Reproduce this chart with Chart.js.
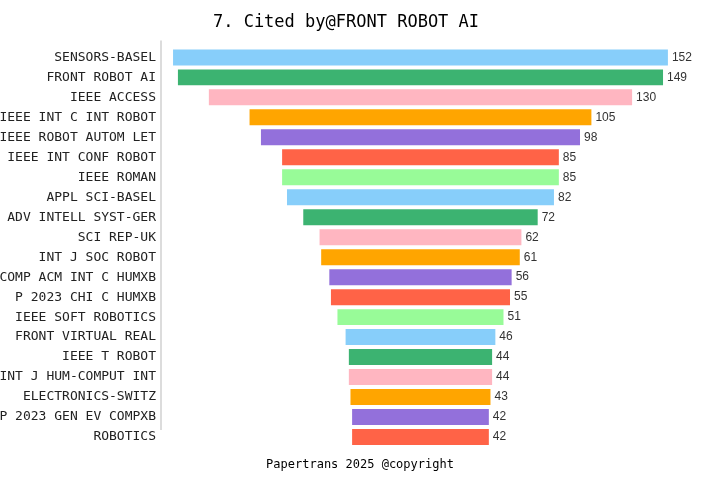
<!DOCTYPE html>
<html>
<head>
<meta charset="utf-8">
<script src="https://cdn.jsdelivr.net/npm/chart.js@4.4.1/dist/chart.umd.min.js"></script>
<style>
  html, body { margin: 0; padding: 0; background: #fff; }
  #wrap { width: 720px; height: 480px; }
</style>
</head>
<body>
<div id="wrap"><canvas id="chart"></canvas></div>
<script>
// Journals citing the work, most to least
const journals = [
    'SENSORS-BASEL', 'FRONT ROBOT AI', 'IEEE ACCESS', 'IEEE INT C INT ROBOT',
    'IEEE ROBOT AUTOM LET', 'IEEE INT CONF ROBOT', 'IEEE ROMAN', 'APPL SCI-BASEL',
    'ADV INTELL SYST-GER', 'SCI REP-UK', 'INT J SOC ROBOT', 'COMP ACM INT C HUMXB',
    'P 2023 CHI C HUMXB', 'IEEE SOFT ROBOTICS', 'FRONT VIRTUAL REAL', 'IEEE T ROBOT',
    'INT J HUM-COMPUT INT', 'ELECTRONICS-SWITZ', 'P 2023 GEN EV COMPXB', 'ROBOTICS'
];
const citations = [152, 149, 130, 105, 98, 85, 85, 82, 72, 62, 61, 56, 55, 51, 46, 44, 44, 43, 42, 42];
const palette = ['#87CEFA', '#3CB371', '#FFB6C1', '#FFA500', '#9370DB', '#FF6347', '#98FB98'];
const footerText = 'Papertrans 2025 @copyright';

const MONO = "'DejaVu Sans Mono', 'Liberation Mono', monospace";

// bars are centred on zero, funnel style
const spans = citations.map(v => [-v / 2, v / 2]);

// value text to the right of each bar
const valueLabels = {
    id: 'valueLabels',
    afterDatasetsDraw(chart) {
        const ctx = chart.ctx;
        const meta = chart.getDatasetMeta(0);
        ctx.save();
        ctx.font = "12px 'Liberation Sans', Arial, sans-serif";
        ctx.fillStyle = '#333';
        ctx.textAlign = 'left';
        ctx.textBaseline = 'middle';
        meta.data.forEach((bar, i) => {
            ctx.fillText(String(citations[i]), bar.x + 4, bar.y);
        });
        ctx.restore();
    }
};

// thin grey spine left of the bars
const leftSpine = {
    id: 'leftSpine',
    beforeDatasetsDraw(chart) {
        const { ctx, chartArea } = chart;
        ctx.save();
        ctx.strokeStyle = '#dcdcdc';
        ctx.lineWidth = 2;
        ctx.beginPath();
        ctx.moveTo(chartArea.left, chartArea.top - 7);
        ctx.lineTo(chartArea.left, chartArea.bottom - 17);
        ctx.stroke();
        ctx.restore();
    }
};

// footer centred on the whole canvas
const footer = {
    id: 'footer',
    afterDraw(chart) {
        const ctx = chart.ctx;
        ctx.save();
        ctx.font = '12px ' + MONO;
        ctx.fillStyle = '#000';
        ctx.textAlign = 'center';
        ctx.textBaseline = 'middle';
        ctx.fillText(footerText, chart.width / 2, chart.height - 15);
        ctx.restore();
    }
};

new Chart(document.getElementById('chart'), {
    type: 'bar',
    data: {
        labels: journals,
        datasets: [{
            data: spans,
            backgroundColor: journals.map((_, i) => palette[i % palette.length]),
            borderWidth: 0,
            borderSkipped: false,
            categoryPercentage: 0.8,
            barPercentage: 1.0
        }]
    },
    options: {
        indexAxis: 'y',
        responsive: true,
        maintainAspectRatio: false,
        animation: false,
        layout: { padding: { left: 0, right: 28, top: 0, bottom: 33 } },
        scales: {
            x: {
                display: false,
                min: -79.7,
                max: 83.4
            },
            y: {
                border: { display: false },
                grid: { display: false, drawTicks: false },
                ticks: {
                    color: '#222',
                    padding: 5,
                    autoSkip: false,
                    font: { family: MONO, size: 13 }
                },
                afterFit(axis) { axis.width = 161; }
            }
        },
        plugins: {
            legend: { display: false },
            tooltip: { enabled: false },
            title: {
                display: true,
                text: '7. Cited by@FRONT ROBOT AI',
                color: '#000',
                font: { family: MONO, size: 17, weight: 'normal' },
                padding: { top: 12, bottom: 15 }
            }
        }
    },
    plugins: [leftSpine, valueLabels, footer]
});
</script>
</body>
</html>
